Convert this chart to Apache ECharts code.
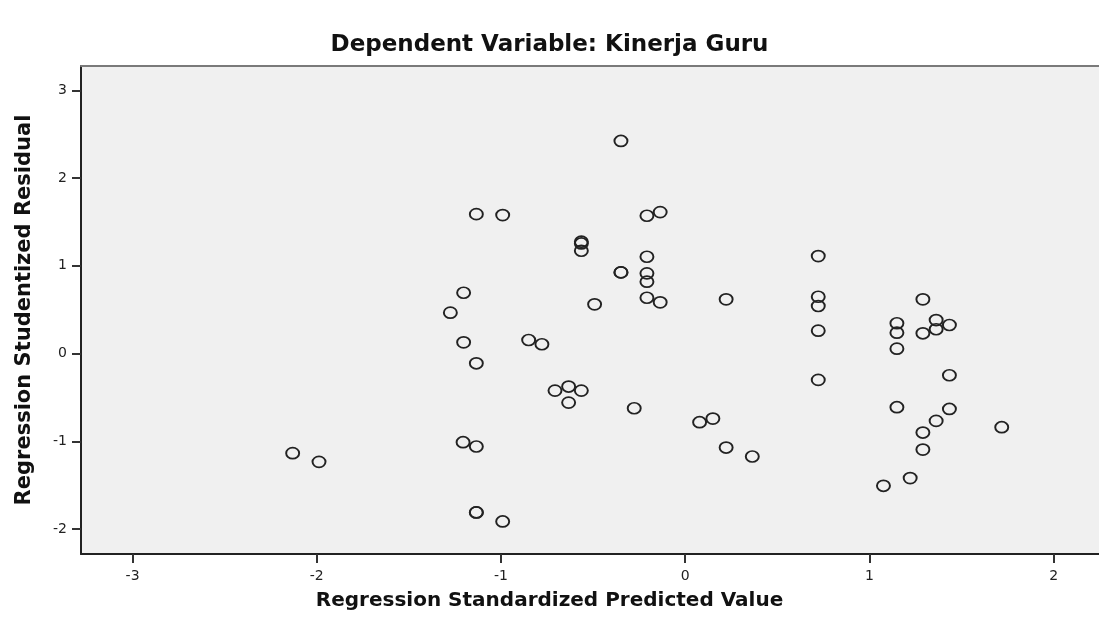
<!DOCTYPE html>
<html>
<head>
<meta charset="utf-8">
<script src="https://cdn.jsdelivr.net/npm/echarts@6/dist/echarts.min.js"></script>
<style>
html,body{margin:0;padding:0;background:#fff;}
#chart{width:1099px;height:635px;}
</style>
</head>
<body>
<div id="chart"></div>
<script>
const chartTitle = "Dependent Variable: Kinerja Guru";
const xTitle = "Regression Standardized Predicted Value";
const yTitle = "Regression Studentized Residual";
const xTicks = [-3, -2, -1, 0, 1, 2];
const yTicks = [-2, -1, 0, 1, 2, 3];
const predicted = [
  -2.131, -1.988, -0.349, -1.134, -0.991, -0.208, -0.136, -0.564, -0.564, -0.564,
  -0.208, -0.349, -0.349, -0.208, -0.208, -1.203, -1.275, -0.492, -0.208, -0.136,
  -1.203, -0.850, -0.778, -1.134, -0.707, -0.633, -0.564, -0.633, -0.277, 0.078,
  0.150, -1.206, -1.134, -1.134, -1.134, -0.991, 0.722, 0.222, 0.722, 0.722,
  0.722, 0.722, 1.290, 1.149, 1.149, 1.362, 1.362, 1.290, 1.434, 1.149,
  1.434, 0.222, 0.364, 1.149, 1.434, 1.362, 1.290, 1.290, 1.718, 1.221, 1.076
];
const residual = [
  -1.135, -1.234, 2.423, 1.589, 1.578, 1.570, 1.612, 1.275, 1.255, 1.172,
  1.103, 0.925, 0.925, 0.914, 0.819, 0.693, 0.466, 0.561, 0.636, 0.584,
  0.128, 0.155, 0.106, -0.111, -0.422, -0.376, -0.422, -0.559, -0.623, -0.782,
  -0.741, -1.010, -1.059, -1.810, -1.810, -1.913, 1.111, 0.618, 0.648, 0.542,
  0.261, -0.300, 0.618, 0.345, 0.238, 0.382, 0.277, 0.231, 0.326, 0.056,
  -0.247, -1.071, -1.173, -0.611, -0.631, -0.767, -0.900, -1.094, -0.839, -1.419, -1.507
];
const points = predicted.map((x, i) => [x, residual[i]]);

const chart = echarts.init(document.getElementById('chart'), null, {renderer: 'canvas'});
const tickLabelStyle = {fontFamily: 'DejaVu Sans', fontSize: 14, color: '#222'};
chart.setOption({
  animation: false,
  backgroundColor: '#ffffff',
  title: [
    {text: chartTitle, left: 'center', top: 29,
     textStyle: {fontFamily: 'DejaVu Sans', fontWeight: 'bold', fontSize: 23, color: '#111'}},
    {text: xTitle, left: 'center', top: 586,
     textStyle: {fontFamily: 'DejaVu Sans', fontWeight: 'bold', fontSize: 20, color: '#111'}}
  ],
  grid: {left: 81, right: 0, top: 66, bottom: 81, show: true, backgroundColor: '#f0f0f0', borderWidth: 0, containLabel: false},
  xAxis: [{
    type: 'value', position: 'bottom', min: -3.28, max: 2.246,
    splitLine: {show: false},
    axisLine: {show: true, onZero: false, lineStyle: {color: '#222', width: 2}},
    axisTick: {show: true, customValues: xTicks, length: 9, lineStyle: {color: '#333', width: 2}},
    axisLabel: Object.assign({show: true, customValues: xTicks, margin: 15}, tickLabelStyle)
  }, {
    type: 'value', position: 'top', min: -3.28, max: 2.246,
    splitLine: {show: false},
    axisLine: {show: true, onZero: false, lineStyle: {color: '#7a7a7a', width: 2}},
    axisTick: {show: false}, axisLabel: {show: false}
  }],
  yAxis: {
    type: 'value', min: -2.284, max: 3.277,
    name: yTitle, nameLocation: 'middle', nameRotate: 90, nameGap: 46,
    nameTextStyle: {fontFamily: 'DejaVu Sans', fontWeight: 'bold', fontSize: 21, color: '#111'},
    splitLine: {show: false},
    axisLine: {show: true, onZero: false, lineStyle: {color: '#222', width: 2}},
    axisTick: {show: true, customValues: yTicks, length: 9, lineStyle: {color: '#333', width: 2}},
    axisLabel: Object.assign({show: true, customValues: yTicks, margin: 14}, tickLabelStyle)
  },
  series: [{
    type: 'scatter', xAxisIndex: 0, data: points,
    symbol: 'circle', symbolSize: [13, 11],
    itemStyle: {color: 'rgba(0,0,0,0)', borderColor: '#222', borderWidth: 1.8, opacity: 1}
  }]
});
</script>
</body>
</html>
